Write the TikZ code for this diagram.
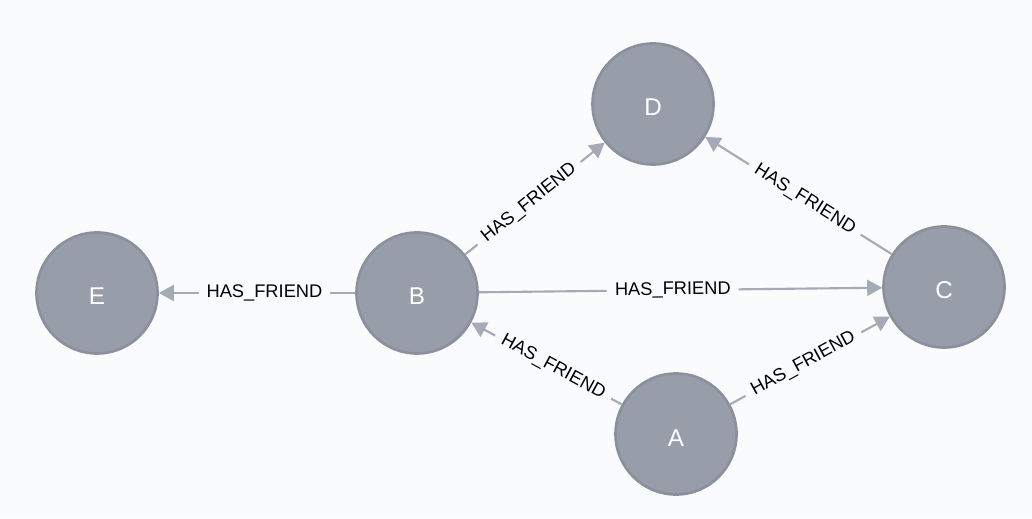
\documentclass[tikz,border=0pt]{standalone}
\usepackage{fontspec}
\setmainfont{Liberation Sans}
\usetikzlibrary{arrows.meta}
\definecolor{paper}{HTML}{F9FBFD}
\definecolor{nodefill}{HTML}{989DAA}
\definecolor{noderim}{HTML}{8B909C}
\definecolor{edge}{HTML}{A5ABB6}
\tikzset{
  person/.style={circle,fill=nodefill,draw=noderim,line width=1.5pt,minimum size=24.2mm,inner sep=0pt,text=white,
    text height=4.8mm,text depth=0pt,font=\fontsize{13.8}{16}\selectfont},
  rel/.style={-{Triangle[length=3mm,width=3.2mm]},line width=1.2pt,draw=edge},
  tag/.style={pos=#1,sloped,fill=paper,inner xsep=1.6mm,inner ysep=.6mm,text=black,font=\fontsize{10.4}{12}\selectfont},
  tag/.default=.5
}
\begin{document}
\begin{tikzpicture}
\fill[paper] (0,0) rectangle (20.64,10.36);
\useasboundingbox (0,0) rectangle (20.64,10.36);

\node[person] (E) at (1.94,4.50) {E};
\node[person] (B) at (8.34,4.50) {B};
\node[person] (D) at (13.06,8.28) {D};
\node[person] (C) at (18.88,4.62) {C};
\node[person] (A) at (13.52,1.68) {A};

% labels sit on the middle of the shaft, arrow head left out
\draw[rel] (B) -- node[tag=.462]{HAS\_FRIEND} (E);
\draw[rel] (B) -- node[tag=.458]{HAS\_FRIEND} (D);
\draw[rel] (B) -- node[tag=.481]{HAS\_FRIEND} (C);
\draw[rel] (C) -- node[tag=.466]{HAS\_FRIEND} (D);
\draw[rel] (A) -- node[tag=.456]{HAS\_FRIEND} (B);
\draw[rel] (A) -- node[tag=.459]{HAS\_FRIEND} (C);
\end{tikzpicture}
\end{document}
